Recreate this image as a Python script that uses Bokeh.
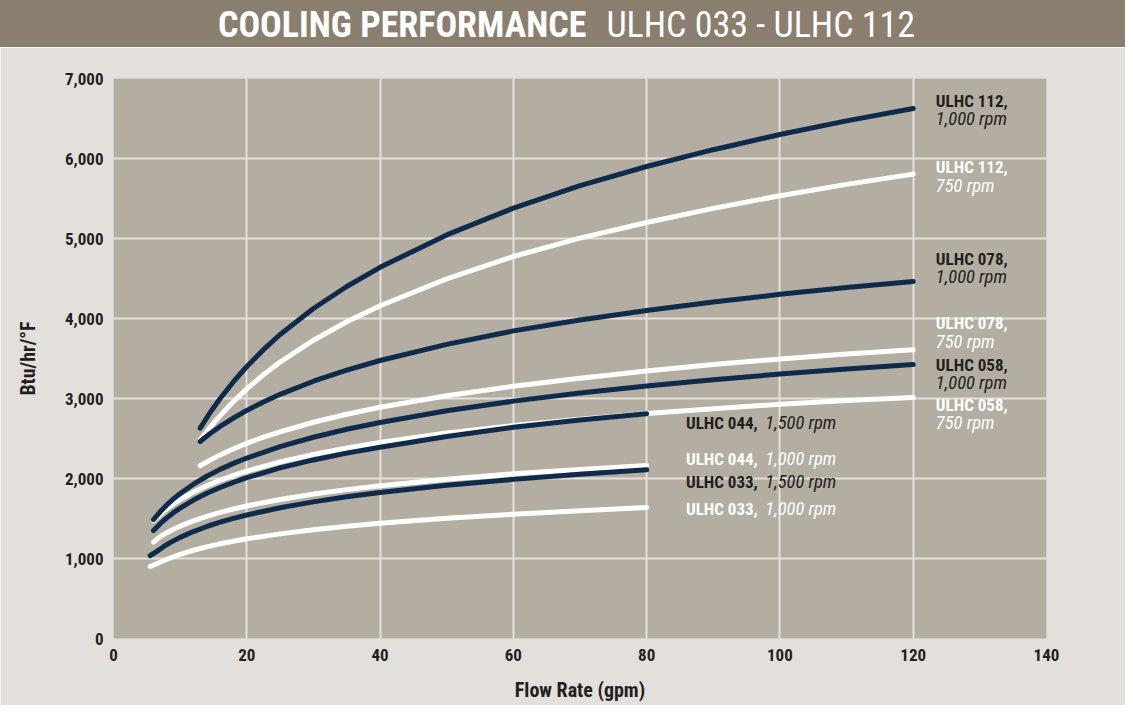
from bokeh.plotting import figure
from bokeh.models import Range1d, NumeralTickFormatter, FixedTicker, ColumnDataSource, Div
from bokeh.layouts import column
from bokeh.embed import file_html
from bokeh.resources import INLINE
from bokeh.core.properties import value

FONT = "Roboto Condensed, DejaVu Sans Condensed, Liberation Sans, sans-serif"
CSSFONT = "'Roboto Condensed','DejaVu Sans Condensed','Liberation Sans',sans-serif"
NAVY = "#0e2b4c"
WHITE = "#ffffff"
DARK = "#231f20"
PLOT_BG = "#b4ada1"
OUTER_BG = "#e3e0db"
BAR_BG = "#8a7e6f"
GRID = "#e4e0da"

# ---------------- data ----------------
x_upper = [13, 14.5, 16, 18, 20, 22.5, 25, 30, 35, 40, 50, 60, 70, 80, 90, 100, 110, 120]
ulhc112_1000 = [2630, 2825, 3000, 3210, 3400, 3610, 3800, 4125, 4400, 4640, 5045, 5380, 5660, 5900, 6110, 6300, 6470, 6625]
ulhc112_750 = [2480, 2640, 2786, 2962, 3120, 3298, 3455, 3728, 3960, 4160, 4495, 4775, 5005, 5200, 5377, 5535, 5677, 5805]
ulhc078_1000 = [2463, 2562, 2651, 2756, 2851, 2957, 3052, 3216, 3355, 3475, 3676, 3845, 3982, 4100, 4206, 4302, 4387, 4462]
ulhc078_750 = [2159, 2230, 2295, 2371, 2440, 2516, 2584, 2703, 2803, 2890, 3035, 3153, 3254, 3345, 3425, 3495, 3555, 3610]

x_058 = [6, 7, 8, 9, 10, 12, 14, 16, 18, 20, 25, 30, 35, 40, 50, 60, 70, 80, 90, 100, 110, 120]
ulhc058_1000 = [1486, 1584, 1670, 1745, 1813, 1929, 2028, 2114, 2189, 2256, 2399, 2516, 2615, 2700, 2847, 2967, 3069, 3157, 3235, 3305, 3368, 3425]
ulhc058_750 = [1473, 1552, 1621, 1682, 1736, 1830, 1909, 1978, 2039, 2093, 2208, 2302, 2381, 2450, 2568, 2662, 2742, 2812, 2872, 2928, 2975, 3012]

x_044 = [6, 7, 8, 9, 10, 12, 14, 16, 18, 20, 25, 30, 35, 40, 50, 60, 70, 80]
ulhc044_1500 = [1350, 1435, 1508, 1573, 1630, 1730, 1815, 1888, 1952, 2010, 2132, 2232, 2317, 2390, 2524, 2640, 2730, 2810]
ulhc044_1000 = [1205, 1274, 1323, 1366, 1404, 1471, 1527, 1576, 1619, 1657, 1738, 1805, 1861, 1910, 1991, 2058, 2114, 2163]

x_033 = [5.5, 6.5, 7.5, 8.5, 10, 12, 14, 16, 18, 20, 25, 30, 35, 40, 50, 60, 70, 80]
ulhc033_1500 = [1035, 1089, 1147, 1198, 1264, 1337, 1400, 1454, 1502, 1544, 1635, 1708, 1771, 1825, 1915, 1989, 2052, 2108]
ulhc033_1000 = [900, 935, 971, 1006, 1052, 1103, 1146, 1184, 1216, 1246, 1308, 1359, 1403, 1440, 1502, 1553, 1597, 1638]

x_ticks = [0, 20, 40, 60, 80, 100, 120, 140]
y_ticks = [0, 1000, 2000, 3000, 4000, 5000, 6000, 7000]

title_bold = "COOLING PERFORMANCE"
title_regular = "ULHC 033 - ULHC 112"

right_names = ["ULHC 112,", "ULHC 112,", "ULHC 078,", "ULHC 078,", "ULHC 058,", "ULHC 058,"]
right_rpms = ["1,000 rpm", "750 rpm", "1,000 rpm", "750 rpm", "1,000 rpm", "750 rpm"]
inline_names = ["ULHC 044,", "ULHC 044,", "ULHC 033,", "ULHC 033,"]
inline_rpms = ["1,500 rpm", "1,000 rpm", "1,500 rpm", "1,000 rpm"]

# label placement (layout)
right_label_x = 123.4
right_name_y = [6725, 5900, 4750, 3940, 3425, 2925]
right_rpm_y = [6500, 5660, 4525, 3710, 3190, 2690]
right_colors = [DARK, WHITE, DARK, WHITE, DARK, WHITE]
inline_name_x = 85.9
inline_rpm_x = 97.8
inline_y = [2690, 2240, 1960, 1625]
inline_colors = [DARK, WHITE, DARK, WHITE]

W = 1125
H = 705
BAR_H = 47

# ---------------- title bar ----------------
bar_html = (
    f'<div style="width:{W}px;height:{BAR_H}px;background:{BAR_BG};color:#ffffff;display:flex;'
    f'align-items:center;justify-content:center;font-family:{CSSFONT};font-size:36px;'
    f'padding-left:8px;padding-top:4px;box-sizing:border-box;white-space:nowrap;">'
    f'<span style="font-weight:bold">{title_bold}</span>'
    f'<span style="margin-left:20px;font-weight:normal">{title_regular}</span></div>'
)
bar = Div(text=bar_html, width=W, height=BAR_H, styles={"margin": "0", "padding": "0"})

# ---------------- main chart ----------------
p = figure(width=W, height=H - BAR_H, x_range=Range1d(0, 140), y_range=Range1d(0, 7000),
           output_backend="svg", toolbar_location=None,
           min_border_left=113, min_border_right=79, min_border_top=31, min_border_bottom=67,
           background_fill_color=PLOT_BG, border_fill_color=OUTER_BG, outline_line_color=None)

p.xaxis.ticker = FixedTicker(ticks=x_ticks)
p.yaxis.ticker = FixedTicker(ticks=y_ticks)
p.yaxis.formatter = NumeralTickFormatter(format="0,0")
for ax in (p.xaxis, p.yaxis):
    ax.axis_line_color = None
    ax.major_tick_line_color = None
    ax.minor_tick_line_color = None
    ax.major_tick_in = 0
    ax.major_tick_out = 0
    ax.minor_tick_in = 0
    ax.minor_tick_out = 0
    ax.major_label_text_font = FONT
    ax.major_label_text_font_style = "bold"
    ax.major_label_text_font_size = "17px"
    ax.major_label_text_color = DARK
    ax.axis_label_text_font = FONT
    ax.axis_label_text_font_style = "bold"
    ax.axis_label_text_font_size = "20px"
    ax.axis_label_text_color = DARK
p.xaxis.axis_label = "Flow Rate (gpm)"
p.yaxis.axis_label = "Btu/hr/°F"
p.xaxis.major_label_standoff = 10
p.xaxis.axis_label_standoff = 14
p.yaxis.major_label_standoff = 10
p.yaxis.axis_label_standoff = 22

p.grid.grid_line_color = GRID
p.grid.grid_line_width = 2
p.xgrid.ticker = FixedTicker(ticks=x_ticks[1:-1])
p.ygrid.ticker = FixedTicker(ticks=y_ticks[1:])

LW = 5
series = [
    (x_upper, ulhc112_750, WHITE),
    (x_upper, ulhc078_750, WHITE),
    (x_058, ulhc058_750, WHITE),
    (x_044, ulhc044_1000, WHITE),
    (x_033, ulhc033_1000, WHITE),
    (x_upper, ulhc112_1000, NAVY),
    (x_upper, ulhc078_1000, NAVY),
    (x_058, ulhc058_1000, NAVY),
    (x_044, ulhc044_1500, NAVY),
    (x_033, ulhc033_1500, NAVY),
]
for xs, ys, c in series:
    p.line(xs, ys, line_color=c, line_width=LW, line_cap="round", line_join="round")

# right-hand labels
rsrc = ColumnDataSource(dict(x=[right_label_x] * len(right_names), yn=right_name_y, yr=right_rpm_y,
                             name=right_names, rpm=right_rpms, color=right_colors))
p.text(x="x", y="yn", text="name", source=rsrc, text_font=value(FONT), text_font_style="bold",
       text_font_size="17px", text_color="color", text_align="left", text_baseline="middle")
p.text(x="x", y="yr", text="rpm", source=rsrc, text_font=value(FONT), text_font_style="italic",
       text_font_size="18.5px", text_color="color", text_align="left", text_baseline="middle")

# inline labels
isrc = ColumnDataSource(dict(xn=[inline_name_x] * len(inline_names), xr=[inline_rpm_x] * len(inline_names),
                             y=inline_y, name=inline_names, rpm=inline_rpms, color=inline_colors))
p.text(x="xn", y="y", text="name", source=isrc, text_font=value(FONT), text_font_style="bold",
       text_font_size="17px", text_color="color", text_align="left", text_baseline="middle")
p.text(x="xr", y="y", text="rpm", source=isrc, text_font=value(FONT), text_font_style="italic",
       text_font_size="18.5px", text_color="color", text_align="left", text_baseline="middle")

layout = column(bar, p, spacing=0)
open("out.html", "w").write(file_html(layout, INLINE))
